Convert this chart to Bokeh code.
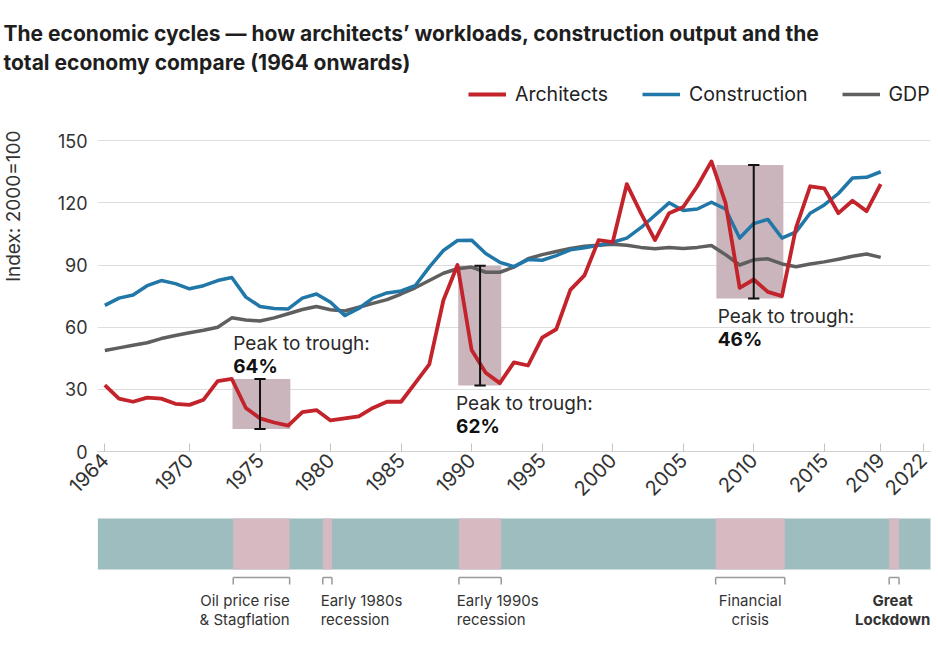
import math
from bokeh.plotting import figure
from bokeh.models import Range1d, FixedTicker, Legend, LegendItem, Title, ColumnDataSource
from bokeh.layouts import column
from bokeh.embed import file_html
from bokeh.resources import INLINE
from bokeh.core.properties import value

FONT = "Inter"

years = list(range(1964, 2020))
architects = [32, 25.5, 24, 26, 25.5, 23, 22.5, 25, 34, 35,
              21, 16, 14, 12.5, 19, 20, 15, 16, 17, 21,
              24, 24, 33, 42, 73, 90, 49, 38, 33, 43,
              41.5, 55, 59, 78, 85, 102, 101, 129, 115, 102,
              115, 118, 128, 140, 120, 79, 83, 77, 75, 108,
              128, 127, 115, 121, 116, 129]
construction = [70.5, 74, 75.5, 80, 82.5, 81, 78.5, 80, 82.5, 84,
                74.5, 70, 69, 68.8, 74, 76, 72, 65.6, 69, 74,
                76.5, 77.5, 80, 89, 97, 101.8, 102, 95.5, 91.3, 89.2,
                92.6, 92.3, 94.5, 97.3, 98.3, 99.5, 101, 103, 108, 114,
                120, 116.3, 117, 120.3, 117, 103, 110, 112, 103, 106,
                115, 119, 124.5, 132, 132.3, 135]
gdp = [48.7, 50, 51.3, 52.5, 54.5, 56, 57.3, 58.5, 60, 64.5,
       63.5, 63, 64.5, 66.5, 68.5, 70, 68.4, 67.8, 69.6, 71.5,
       73.3, 76, 79, 82.5, 86, 88.2, 89, 86.5, 86.5, 89,
       93, 95, 96.5, 98, 99, 99.5, 100, 99.5, 98.5, 97.8,
       98.5, 98, 98.5, 99.4, 95, 90, 92.5, 93, 90.5, 89.2,
       90.5, 91.5, 92.8, 94.2, 95.3, 93.7]

x_ticks = [1964, 1970, 1975, 1980, 1985, 1990, 1995, 2000, 2005, 2010, 2015, 2019, 2022]
y_ticks = [0, 30, 60, 90, 120, 150]

# peak-to-trough episodes (architects)
pt_start = [1973.05, 1989.05, 2007.35]
pt_end = [1977.15, 1992.1, 2012.1]
pt_peak = [35.0, 89.6, 138.3]
pt_trough = [10.8, 31.8, 73.8]
pt_bar_x = [1975.0, 1990.6, 2010.0]
pt_pct = ["64%", "62%", "46%"]
pt_text_x = [1973.1, 1988.9, 2007.45]
pt_text_y = [52.1, 23.0, 65.1]

# recessions (bottom band)
band_start, band_end = 1963.5, 2022.8
rec_start = [1973.1, 1979.45, 1989.1, 2007.3, 2019.6]
rec_end = [1977.1, 1980.1, 1992.1, 2012.2, 2020.3]
rec_names = ["Oil price rise\n& Stagflation", "Early 1980s\nrecession",
             "Early 1990s\nrecession", "Financial\ncrisis", "Great\nLockdown"]

RED, BLUE, GREY = "#c3232b", "#2077a8", "#5f5f5f"
X0, X1 = 1963.48, 2022.53

p = figure(width=932, height=508, x_range=Range1d(X0, X1), y_range=Range1d(0, 180),
           output_backend="svg", toolbar_location=None,
           min_border_left=97, min_border_right=2, min_border_bottom=57, min_border_top=78)
p.outline_line_color = None
p.background_fill_color = "white"
p.border_fill_color = "white"

p.title.text = ("The economic cycles \u2014 how architects\u2019 workloads, construction output and the\n"
                "total economy compare (1964 onwards)")
p.title.text_font = FONT
p.title.text_font_size = "21px"
p.title.text_font_style = "bold"
p.title.text_color = "#1e1e1e"
p.title.text_line_height = 1.15
p.title.align = "left"
p.title.offset = -94
p.title.standoff = 8

ytitle = Title(text="Index: 2000=100", align="right", offset=52, standoff=26,
               text_font=FONT, text_font_size="19px", text_font_style="normal",
               text_color="#333333")
try:
    ytitle.padding = (0, 0, 0, 30)
    ytitle.standoff = 0
except Exception:
    pass
p.add_layout(ytitle, "left")

p.xgrid.visible = False
p.ygrid.ticker = FixedTicker(ticks=y_ticks)
p.ygrid.grid_line_color = "#dddddd"
p.ygrid.grid_line_width = 1

p.xaxis.ticker = FixedTicker(ticks=x_ticks)
p.xaxis.major_label_orientation = math.pi / 4
p.xaxis.major_label_text_font = FONT
p.xaxis.major_label_text_font_size = "20px"
p.xaxis.major_label_text_color = "#333333"
p.xaxis.axis_line_color = "#d0d0d0"
p.xaxis.major_tick_line_color = "#c4c4c4"
p.xaxis.major_tick_in = 8
p.xaxis.major_tick_out = 0
p.xaxis.minor_tick_line_color = None
p.xaxis.major_label_standoff = 5

p.yaxis.ticker = FixedTicker(ticks=y_ticks)
p.yaxis.axis_line_color = None
p.yaxis.major_tick_line_color = None
p.yaxis.major_tick_in = 0
p.yaxis.major_tick_out = 0
p.yaxis.minor_tick_line_color = None
p.yaxis.minor_tick_out = 0
p.yaxis.major_label_text_font = FONT
p.yaxis.major_label_text_font_size = "18px"
p.yaxis.major_label_text_color = "#333333"
p.yaxis.major_label_standoff = 10

# shaded peak-to-trough boxes
p.quad(left=pt_start, right=pt_end, bottom=pt_trough, top=pt_peak,
       fill_color="#cab5bc", line_color=None)

src = ColumnDataSource(dict(year=years, arch=architects, cons=construction, gdp=gdp))
r_gdp = p.line("year", "gdp", source=src, line_color=GREY, line_width=3.5, line_join="round")
r_cons = p.line("year", "cons", source=src, line_color=BLUE, line_width=3.5, line_join="round")
r_arch = p.line("year", "arch", source=src, line_color=RED, line_width=3.8, line_join="round")

# peak-to-trough bars
cap = 0.4
p.segment(x0=pt_bar_x, y0=pt_trough, x1=pt_bar_x, y1=pt_peak, line_color="#111111", line_width=2)
p.segment(x0=[x - cap for x in pt_bar_x], y0=pt_peak, x1=[x + cap for x in pt_bar_x], y1=pt_peak,
          line_color="#111111", line_width=2)
p.segment(x0=[x - cap for x in pt_bar_x], y0=pt_trough, x1=[x + cap for x in pt_bar_x], y1=pt_trough,
          line_color="#111111", line_width=2)

tsrc = ColumnDataSource(dict(x=pt_text_x, y=pt_text_y, t=["Peak to trough:"] * 3, pct=pt_pct))
p.text("x", "y", text="t", source=tsrc, text_font=value(FONT), text_font_size="19px",
       text_color="#2a2a2a", text_align="left", text_baseline="middle")
p.text("x", "y", text="pct", source=tsrc, text_font=value(FONT), text_font_size="19px",
       text_font_style="bold", text_color="#111111", text_align="left", text_baseline="middle",
       y_offset=23)

legend = Legend(items=[LegendItem(label="Architects", renderers=[r_arch]),
                       LegendItem(label="Construction", renderers=[r_cons]),
                       LegendItem(label="GDP", renderers=[r_gdp])],
                orientation="horizontal", location=(371, 345))
legend.padding = 0
legend.margin = 0
legend.spacing = 34
legend.glyph_width = 38
legend.glyph_height = 20
legend.label_standoff = 9
legend.label_text_font = FONT
legend.label_text_font_size = "19.5px"
legend.label_text_color = "#222222"
legend.border_line_alpha = 0
legend.background_fill_alpha = 0
p.add_layout(legend)

# ---- bottom recession band ----
p2 = figure(width=932, height=135, x_range=p.x_range, y_range=Range1d(135, 0),
            x_axis_type=None, y_axis_type=None, output_backend="svg", toolbar_location=None,
            min_border_left=97, min_border_right=2, min_border_top=0, min_border_bottom=0)
p2.outline_line_color = None
p2.xgrid.visible = False
p2.ygrid.visible = False

p2.quad(left=[band_start], right=[band_end], top=[10], bottom=[61], fill_color="#9dbdbe", line_color=None)
p2.quad(left=rec_start, right=rec_end, top=10, bottom=61, fill_color="#d5bac2", line_color=None)

BR = "#9a9a9a"
p2.segment(x0=rec_start, y0=69, x1=rec_end, y1=69, line_color=BR, line_width=1.5)
p2.segment(x0=rec_start, y0=69, x1=rec_start, y1=76, line_color=BR, line_width=1.5)
p2.segment(x0=rec_end, y0=69, x1=rec_end, y1=76, line_color=BR, line_width=1.5)

mid = [(a + b) / 2 for a, b in zip(rec_start, rec_end)]
common = dict(text_font=value(FONT), text_font_size="15px", text_color="#333333",
              text_baseline="top", text_line_height=1.0)
p2.text(x=[rec_end[0]], y=[82], text=[rec_names[0]], text_align="right", **common)
p2.text(x=[rec_start[1] - 0.15, rec_start[2] - 0.15], y=[82, 82], text=rec_names[1:3],
        text_align="left", **common)
p2.text(x=[mid[3]], y=[82], text=[rec_names[3]], text_align="center", **common)
p2.text(x=[mid[4] - 0.1], y=[82], text=[rec_names[4]], text_align="center", text_font_style="bold",
        **common)

layout = column(p, p2, spacing=0)
open("out.html", "w").write(file_html(layout, INLINE))
